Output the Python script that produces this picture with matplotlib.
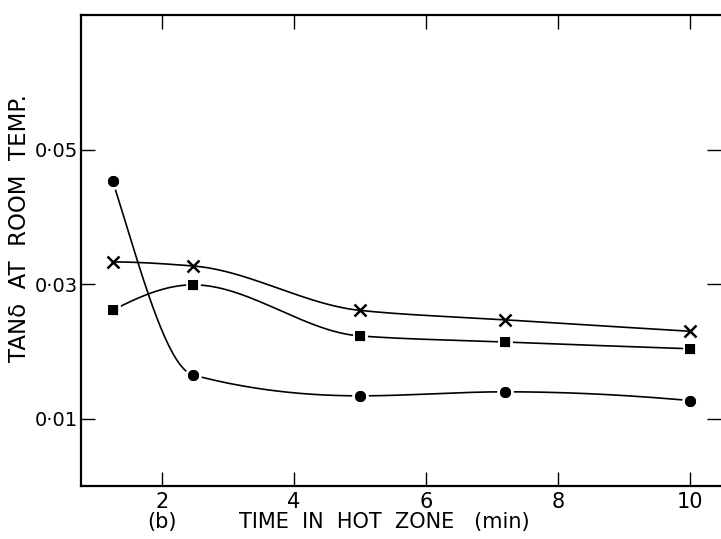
import numpy as np
import matplotlib
matplotlib.use("Agg")
import matplotlib.pyplot as plt

# Data
time_min = [1.25, 2.47, 5.0, 7.2, 10.0]
tan_cross = [0.0333, 0.0327, 0.0261, 0.0247, 0.0230]
tan_square = [0.0261, 0.0299, 0.0223, 0.0214, 0.0204]
tan_circle = [0.0454, 0.0165, 0.0134, 0.0140, 0.0127]

x_ticks = [2, 4, 6, 8, 10]
x_ticklabels = ["2", "4", "6", "8", "10"]
y_ticks = [0.01, 0.03, 0.05]
y_ticklabels = ["0·01", "0·03", "0·05"]


def pchip_curve(x, y, n=300):
    x = np.asarray(x, float)
    y = np.asarray(y, float)
    h = np.diff(x)
    d = np.diff(y) / h
    m = np.zeros_like(y)
    for k in range(1, len(x) - 1):
        if d[k - 1] * d[k] > 0:
            w1 = 2 * h[k] + h[k - 1]
            w2 = h[k] + 2 * h[k - 1]
            m[k] = (w1 + w2) / (w1 / d[k - 1] + w2 / d[k])
        else:
            m[k] = 0.0
    m[0] = ((2 * h[0] + h[1]) * d[0] - h[0] * d[1]) / (h[0] + h[1])
    if np.sign(m[0]) != np.sign(d[0]):
        m[0] = 0
    m[-1] = ((2 * h[-1] + h[-2]) * d[-1] - h[-1] * d[-2]) / (h[-1] + h[-2])
    if np.sign(m[-1]) != np.sign(d[-1]):
        m[-1] = 0
    xs = np.linspace(x[0], x[-1], n)
    idx = np.clip(np.searchsorted(x, xs) - 1, 0, len(x) - 2)
    t = (xs - x[idx]) / h[idx]
    h00 = 2 * t**3 - 3 * t**2 + 1
    h10 = t**3 - 2 * t**2 + t
    h01 = -2 * t**3 + 3 * t**2
    h11 = t**3 - t**2
    ys = h00 * y[idx] + h10 * h[idx] * m[idx] + h01 * y[idx + 1] + h11 * h[idx] * m[idx + 1]
    return xs, ys


plt.rcParams["font.family"] = "DejaVu Sans"

fig = plt.figure(figsize=(7.21, 5.39), dpi=100)
ax = fig.add_axes([0.1117, 0.0983, 0.8883, 0.8739])

for ys, mk, ms in [(tan_cross, "x", 8), (tan_square, "s", 9), (tan_circle, "o", 10)]:
    cx, cy = pchip_curve(time_min, ys)
    ax.plot(cx, cy, color="black", lw=1.2, zorder=2)
    if mk == "x":
        ax.plot(time_min, ys, ls="none", marker="x", ms=ms, mew=1.8, color="black", zorder=4)
    else:
        ax.plot(time_min, ys, ls="none", marker=mk, ms=ms, mfc="black", mec="white", mew=2.0, zorder=4)
        ax.plot(time_min, ys, ls="none", marker=mk, ms=ms - 2, mfc="black", mec="black", mew=0, zorder=5)

ax.set_xlim(0.765, 10.47)
ax.set_ylim(0.0, 0.07)
ax.set_xticks(x_ticks)
ax.set_xticklabels(x_ticklabels, fontsize=15)
ax.set_yticks(y_ticks)
ax.set_yticklabels(y_ticklabels, fontsize=14)
ax.tick_params(direction="in", length=10, width=1.0, top=True, right=True)
ax.tick_params(axis="x", pad=4)
ax.tick_params(axis="y", pad=2)
for s in ["left", "bottom", "top"]:
    ax.spines[s].set_linewidth(1.6)
ax.spines["right"].set_visible(False)

fig.text(384 / 721, 1 - 522 / 539, "TIME  IN  HOT  ZONE   (min)", fontsize=15,
         ha="center", va="center")
fig.text(20 / 721, 1 - 228 / 539, "TANδ  AT  ROOM  TEMP.", fontsize=16.5, rotation=90,
         ha="center", va="center")
fig.text(147 / 721, 1 - 522 / 539, "(b)", fontsize=15, va="center", ha="left")

fig.savefig("out.png", dpi=100)
